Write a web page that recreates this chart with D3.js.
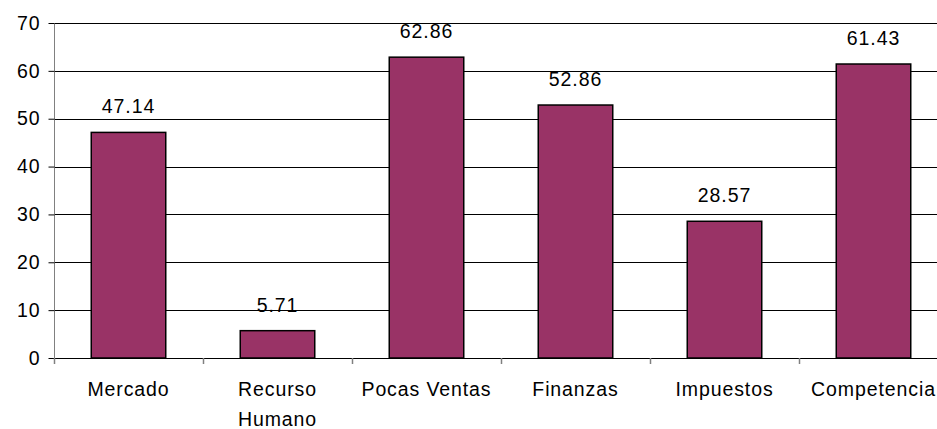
<!DOCTYPE html>
<html>
<head>
<meta charset="utf-8">
<script src="https://cdn.jsdelivr.net/npm/d3@7"></script>
<style>
  html, body { margin: 0; padding: 0; background: #fff; }
  svg { display: block; }
  text { font-family: "Liberation Sans", Arial, sans-serif; font-size: 19.5px; fill: #000; letter-spacing: 0.9px; }
</style>
</head>
<body>
<svg id="chart" width="937" height="429"></svg>
<script>
const categories = ["Mercado", "Recurso Humano", "Pocas Ventas", "Finanzas", "Impuestos", "Competencia"];
const values = [47.14, 5.71, 62.86, 52.86, 28.57, 61.43];
const yTicks = [0, 10, 20, 30, 40, 50, 60, 70];

const svg = d3.select("#chart");
const plotLeft = 54, plotRight = 948, plotTop = 23, plotBottom = 358;

const x = d3.scaleBand().domain(categories).range([plotLeft, plotRight]).paddingInner(0).paddingOuter(0);
const y = d3.scaleLinear().domain([0, 70]).range([plotBottom, plotTop]);

// horizontal gridlines
svg.append("g")
  .selectAll("line")
  .data(yTicks)
  .join("line")
  .attr("x1", plotLeft).attr("x2", plotRight)
  .attr("y1", d => Math.round(y(d)) + 0.5).attr("y2", d => Math.round(y(d)) + 0.5)
  .attr("stroke", "#000").attr("stroke-width", 1);

// bars
const barW = x.bandwidth() * 0.5;
svg.append("g")
  .selectAll("rect")
  .data(values)
  .join("rect")
  .attr("x", (d, i) => x(categories[i]) + (x.bandwidth() - barW) / 2)
  .attr("y", d => y(d))
  .attr("width", barW)
  .attr("height", d => plotBottom - y(d))
  .attr("fill", "#993366")
  .attr("stroke", "#000")
  .attr("stroke-width", 1.5);

// value labels
svg.append("g")
  .selectAll("text")
  .data(values)
  .join("text")
  .attr("x", (d, i) => x(categories[i]) + x.bandwidth() / 2)
  .attr("y", d => y(d) - 19)
  .attr("text-anchor", "middle")
  .text(d => d.toFixed(2));

// y axis
const yAxis = d3.axisLeft(y).tickValues(yTicks).tickSize(6).tickPadding(8);
const gy = svg.append("g").attr("transform", `translate(${plotLeft + 0.5},0)`).call(yAxis);
gy.select(".domain").attr("stroke", "#808080").attr("d", `M0,${plotTop}V${plotBottom + 6}`);
gy.selectAll(".tick line").attr("stroke", "#000");
gy.selectAll(".tick text").style("font-family", "'Liberation Sans', Arial, sans-serif")
  .style("font-size", "19.5px").style("letter-spacing", "0.9px").attr("fill", "#000");

// x axis category ticks
const xTickPos = d3.range(categories.length + 1).map(i => plotLeft + i * x.bandwidth());
svg.append("g")
  .selectAll("line")
  .data(xTickPos)
  .join("line")
  .attr("x1", d => Math.round(d) + 0.5).attr("x2", d => Math.round(d) + 0.5)
  .attr("y1", plotBottom).attr("y2", plotBottom + 6)
  .attr("stroke", "#808080").attr("stroke-width", 1.5);

// category labels, the long one wrapped onto two lines
const labels = svg.append("g")
  .selectAll("text")
  .data(categories)
  .join("text")
  .attr("x", d => x(d) + x.bandwidth() / 2)
  .attr("y", 396)
  .attr("text-anchor", "middle");
labels.each(function(d) {
  const t = d3.select(this);
  const lines = d === "Recurso Humano" ? d.split(" ") : [d];
  lines.forEach((w, i) => {
    t.append("tspan")
      .attr("x", x(d) + x.bandwidth() / 2)
      .attr("dy", i === 0 ? 0 : 30)
      .text(w);
  });
});
</script>
</body>
</html>
